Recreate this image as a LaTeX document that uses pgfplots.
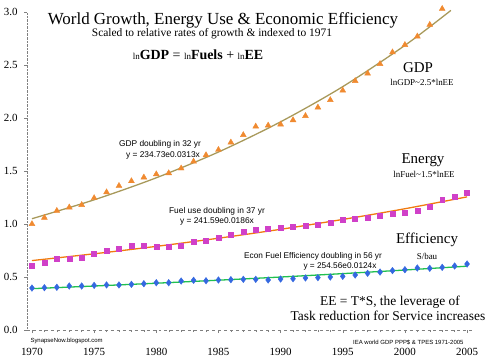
\documentclass[border=0pt]{standalone}
\usepackage{fontspec}
\setmainfont{Liberation Serif}
\newfontfamily\smallsans{Liberation Sans}
\usepackage{pgfplots}
\pgfplotsset{compat=1.18}
\definecolor{gdpmark}{HTML}{F08A30}
\definecolor{gdpline}{HTML}{A8995A}
\definecolor{enmark}{HTML}{D040C8}
\definecolor{enline}{HTML}{F07A10}
\definecolor{efmark}{HTML}{3468E0}
\definecolor{efline}{HTML}{20C050}
\begin{document}
\begin{tikzpicture}[x=1bp,y=1bp]
\useasboundingbox (-27,-28) rectangle (463,330);
\begin{axis}[
  at={(0,0)}, anchor=south west,
  width=448bp, height=318bp, scale only axis,
  xmin=1969.6, xmax=2005.64, ymin=0, ymax=3,
  axis x line=bottom, axis y line=left,
  x axis line style={-, gray, dashed},
  y axis line style={-, gray, densely dotted},
  xtick={1970,1975,...,2005},
  ytick={0,0.5,...,3},
  minor x tick num=4,
  tick style={gray, thin},
  tick align=outside,
  major tick length=3bp, minor tick length=2bp,
  /pgf/number format/assume math mode=true,
  xticklabel style={/pgf/number format/1000 sep={}, font=\fontsize{11}{12}\selectfont, yshift=-12bp},
  yticklabel style={/pgf/number format/fixed, /pgf/number format/fixed zerofill, /pgf/number format/precision=1, font=\fontsize{11}{12}\selectfont, xshift=-3bp},
  clip=false,
]
% GDP
\addplot[only marks, mark=triangle*, mark size=3.4, color=gdpmark] table {
1970 1.00
1971 1.06
1972 1.125
1973 1.157
1974 1.18
1975 1.245
1976 1.30
1977 1.36
1978 1.405
1979 1.44
1980 1.47
1981 1.48
1982 1.525
1983 1.59
1984 1.65
1985 1.70
1986 1.77
1987 1.84
1988 1.92
1989 1.93
1990 1.94
1991 1.98
1992 2.02
1993 2.10
1994 2.17
1995 2.26
1996 2.35
1997 2.42
1998 2.51
1999 2.62
2000 2.69
2001 2.77
2002 2.88
2003 3.03
};
% Energy
\addplot[only marks, mark=square*, mark size=2.5, color=enmark] table {
1970 0.607
1971 0.638
1972 0.676
1973 0.676
1974 0.682
1975 0.72
1976 0.745
1977 0.77
1978 0.795
1979 0.792
1980 0.786
1981 0.786
1982 0.792
1983 0.833
1984 0.846
1985 0.871
1986 0.90
1987 0.93
1988 0.95
1989 0.959
1990 0.969
1991 0.975
1992 0.981
1993 0.991
1994 1.016
1995 1.044
1996 1.054
1997 1.063
1998 1.082
1999 1.101
2000 1.107
2001 1.129
2002 1.167
2003 1.226
2004 1.258
2005 1.292
};
% Efficiency
\addplot[only marks, mark=diamond*, mark size=3.3, color=efmark] table {
1970 0.396
1971 0.399
1972 0.403
1973 0.415
1974 0.415
1975 0.421
1976 0.425
1977 0.425
1978 0.431
1979 0.437
1980 0.446
1981 0.446
1982 0.462
1983 0.469
1984 0.465
1985 0.472
1986 0.475
1987 0.478
1988 0.478
1989 0.472
1990 0.481
1991 0.484
1992 0.491
1993 0.494
1994 0.500
1995 0.506
1996 0.519
1997 0.535
1998 0.547
1999 0.560
2000 0.569
2001 0.585
2002 0.582
2003 0.591
2004 0.604
2005 0.623
};
% trend lines
\addplot[smooth, color=gdpline, line width=1.3] coordinates {
(1970,1.05) (1975,1.228) (1980,1.436) (1985,1.679) (1990,1.964) (1995,2.296) (2000,2.685) (2003.7,3.015)};
\addplot[smooth, color=enline, line width=1.3] coordinates {
(1970,0.655) (1975,0.719) (1980,0.789) (1985,0.866) (1990,0.950) (1995,1.043) (2000,1.144) (2005,1.256)};
\addplot[smooth, color=efline, line width=1.3] coordinates {
(1970,0.39) (1975,0.415) (1980,0.4415) (1985,0.470) (1990,0.4998) (1995,0.532) (2000,0.566) (2005,0.602)};
\end{axis}
% texts (bp relative to axis origin)
\node[font=\fontsize{17}{20}\selectfont] at (196,310) {World Growth, Energy Use \& Economic Efficiency};
\node[font=\fontsize{11.5}{13}\selectfont] at (185,296) {Scaled to relative rates of growth \& indexed to 1971};
\node[font=\fontsize{14}{16}\selectfont] at (171,275) {{\fontsize{9}{10}\selectfont ln}\textbf{GDP} = {\fontsize{9}{10}\selectfont ln}\textbf{Fuels} + {\fontsize{9}{10}\selectfont ln}\textbf{EE}};
\node[font=\fontsize{15}{17}\selectfont] at (391,262) {GDP};
\node[font=\fontsize{9}{10}\selectfont] at (395,248) {lnGDP\textasciitilde2.5*lnEE};
\node[font=\fontsize{15}{17}\selectfont] at (396,170) {Energy};
\node[font=\fontsize{9}{10}\selectfont] at (397,156) {lnFuel\textasciitilde1.5*lnEE};
\node[font=\fontsize{15}{17}\selectfont] at (400,90) {Efficiency};
\node[font=\fontsize{9}{10}\selectfont] at (400,74) {S/bau};
\node[font=\smallsans\fontsize{8.4}{9}\selectfont] at (133,186) {GDP doubling in 32 yr};
\node[font=\smallsans\fontsize{8.4}{9}\selectfont] at (136,175) {y = 234.73e0.0313x};
\node[font=\smallsans\fontsize{8.4}{9}\selectfont] at (190,119) {Fuel use doubling in 37 yr};
\node[font=\smallsans\fontsize{8.4}{9}\selectfont] at (190,109) {y = 241.59e0.0186x};
\node[font=\smallsans\fontsize{8.3}{9}\selectfont] at (286,74) {Econ Fuel Efficiency doubling in 56 yr};
\node[font=\smallsans\fontsize{8.3}{9}\selectfont] at (313,64) {y = 254.56e0.0124x};
\node[font=\fontsize{13.5}{15}\selectfont] at (363,28) {EE = T*S, the leverage of};
\node[font=\fontsize{13.5}{15}\selectfont] at (361,14) {Task reduction for Service increases};
\node[font=\smallsans\fontsize{6}{7}\selectfont, anchor=west] at (0,-11) {SynapseNow.blogspot.com};
\node[font=\smallsans\fontsize{6}{7}\selectfont, anchor=east] at (440,-12) {IEA world GDP PPP\$ \& TPES 1971-2005};
\end{tikzpicture}
\end{document}
